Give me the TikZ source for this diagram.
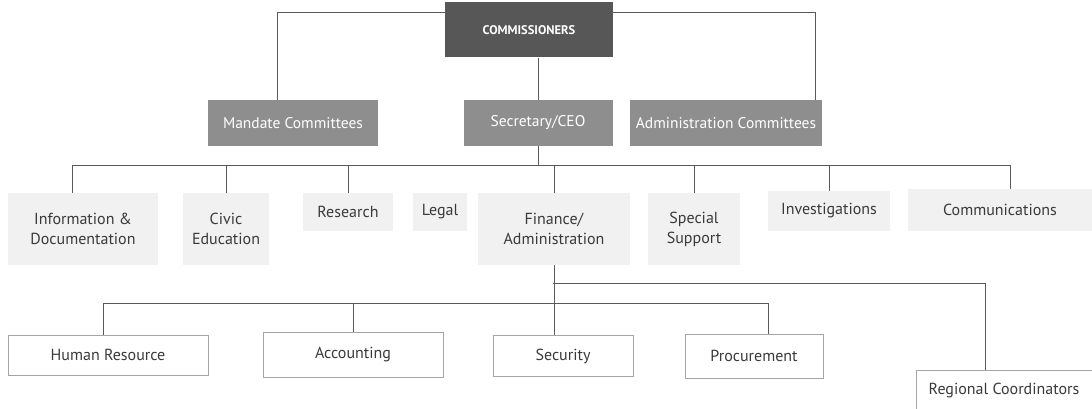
\documentclass[tikz,border=0pt]{standalone}
\usepackage{fontspec}
\setmainfont{PT Sans}
\definecolor{txt}{HTML}{3A3A3A}
\definecolor{dark}{HTML}{575757}
\definecolor{mid}{HTML}{8E8E8E}
\definecolor{pale}{HTML}{F1F1F1}
\definecolor{ln}{HTML}{5A5A5A}
\tikzset{
  topbox/.style={fill=dark, text=white, font=\bfseries\fontsize{12.5}{15}\selectfont, inner sep=0pt},
  midbox/.style={fill=mid, text=white, font=\fontsize{15.5}{18}\selectfont, inner sep=0pt},
  unitbox/.style={fill=pale, text=txt, font=\fontsize{16}{20}\selectfont, align=center, inner sep=0pt},
  subbox/.style={draw=mid!80, line width=0.6pt, fill=white, text=txt, font=\fontsize{16}{19}\selectfont, inner sep=0pt},
  conn/.style={draw=ln, line width=0.7pt},
}
\begin{document}
\begin{tikzpicture}[x=1pt,y=-1pt]
\useasboundingbox (0,0) rectangle (1092,409);
\fill[white] (0,0) rectangle (1092,409);
% bus coordinates
\coordinate (tl) at (277,12);
\coordinate (tr) at (815,12);
\coordinate (bl) at (72,165);
\coordinate (br) at (1010,165);
\coordinate (fa) at (553,283);
\coordinate (far) at (985,283);
\coordinate (sl) at (103,303);
\coordinate (sr) at (768,303);
% connectors drawn first (behind boxes)
\draw[conn] (277,100) -- (tl) -- (tr) -- (815,100);
% top level
\node[topbox, minimum width=168pt, minimum height=55pt] (com) at (529,30) {COMMISSIONERS};
\node[midbox, minimum width=170pt, minimum height=46pt] (mc) at (293,123) {Mandate Committees};
\node[midbox, minimum width=149pt, minimum height=46pt] (ceo) at (538,123) {Secretary/CEO};
\node[midbox, minimum width=192pt, minimum height=46pt] (ac) at (726,123) {Administration Committees};
% level 2
\node[unitbox, minimum width=150pt, minimum height=72pt] (info) at (83,229) {Information \&\\Documentation};
\node[unitbox, minimum width=86pt, minimum height=72pt] (civic) at (226,229) {Civic\\Education};
\node[unitbox, minimum width=90pt, minimum height=38pt] (res) at (348,212) {Research};
\node[unitbox, minimum width=54pt, minimum height=38pt] (legal) at (440,212) {Legal};
\node[unitbox, minimum width=152pt, minimum height=72pt] (fin) at (554,229) {Finance/\\Administration};
\node[unitbox, minimum width=92pt, minimum height=72pt] (spec) at (694,229) {Special\\Support};
\node[unitbox, minimum width=122pt, minimum height=40pt] (inv) at (829,211) {Investigations};
\node[unitbox, minimum width=185pt, minimum height=42pt] (comm) at (1000,210) {Communications};
% level 3
\node[subbox, minimum width=200pt, minimum height=40pt] (hr) at (108,355) {Human Resource};
\node[subbox, minimum width=180pt, minimum height=45pt] (acc) at (353,355) {Accounting};
\node[subbox, minimum width=140pt, minimum height=41pt] (sec) at (563,356) {Security};
\node[subbox, minimum width=138pt, minimum height=44pt] (proc) at (754,356) {Procurement};
\node[subbox, minimum width=176pt, minimum height=40pt] (reg) at (1004,390) {Regional Coordinators};
% connectors
\draw[conn] (com.south -| ceo.north) -- (ceo.north);
\draw[conn] (ceo.south) -- (ceo.south |- bl);
\draw[conn] (bl) -- (br);
\draw[conn] (bl) -- (info.north -| bl);
\draw[conn] (civic.north |- bl) -- (civic.north);
\draw[conn] (res.north |- bl) -- (res.north);
\draw[conn] (fin.north |- bl) -- (fin.north);
\draw[conn] (spec.north |- bl) -- (spec.north);
\draw[conn] (inv.north |- bl) -- (inv.north);
\draw[conn] (br) -- (comm.north -| br);
\draw[conn] (fin.south) -- (sec.north -| fin.south);
\draw[conn] (fa) -- (far) -- (reg.north -| far);
\draw[conn] (hr.north -| sl) -- (sl) -- (sr) -- (proc.north -| sr);
\draw[conn] (acc.north |- sl) -- (acc.north);
\end{tikzpicture}
\end{document}
